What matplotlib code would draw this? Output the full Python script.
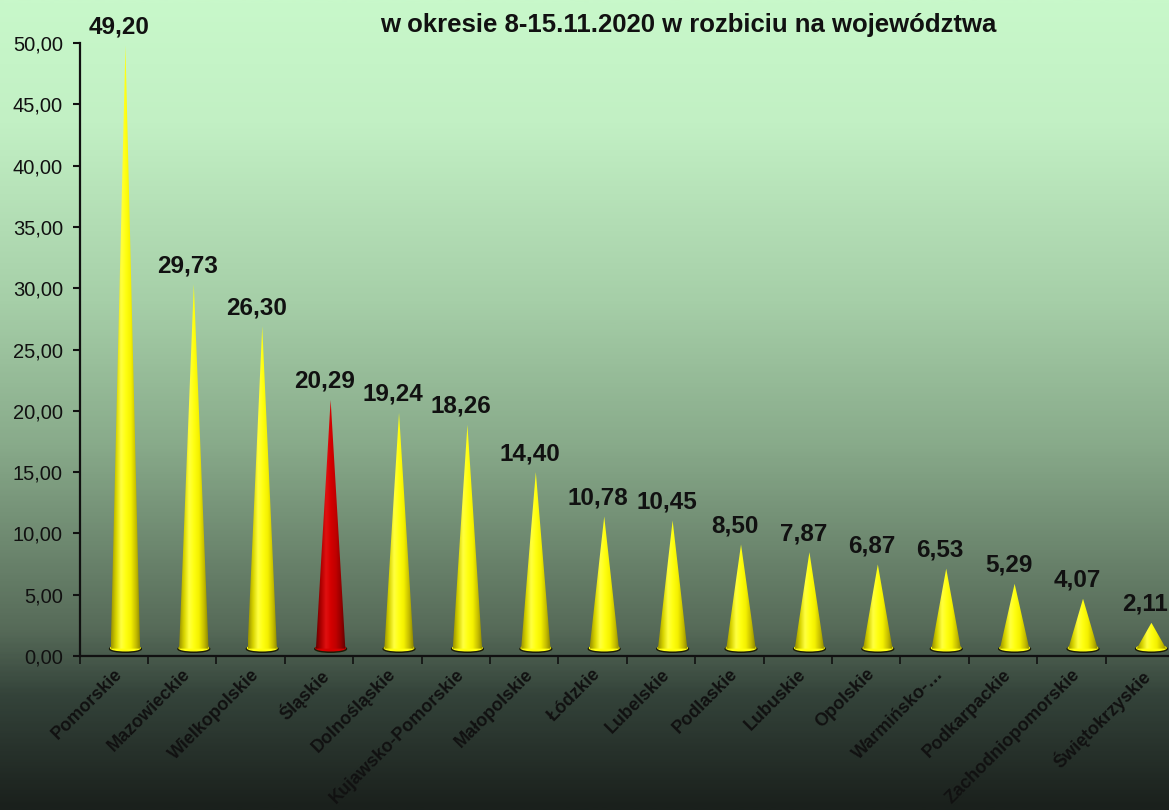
import matplotlib
matplotlib.use("Agg")
import matplotlib.pyplot as plt
import numpy as np
from matplotlib.colors import LinearSegmentedColormap
from matplotlib.patches import Polygon, Ellipse
from matplotlib.ticker import FuncFormatter

plt.rcParams['font.family'] = ['Liberation Sans', 'DejaVu Sans']

categories = ["Pomorskie", "Mazowieckie", "Wielkopolskie", "Śląskie", "Dolnośląskie",
              "Kujawsko-Pomorskie", "Małopolskie", "Łódzkie", "Lubelskie", "Podlaskie",
              "Lubuskie", "Opolskie", "Warmińsko-…", "Podkarpackie",
              "Zachodniopomorskie", "Świętokrzyskie"]
values = [49.20, 29.73, 26.30, 20.29, 19.24, 18.26, 14.40, 10.78, 10.45, 8.50,
          7.87, 6.87, 6.53, 5.29, 4.07, 2.11]
highlight = "Śląskie"
title = "w okresie 8-15.11.2020 w rozbiciu na województwa"

yellow_grad = ["#9c9400", "#d8d400", "#ffff40", "#ffff10", "#f4f000", "#c8c000", "#8a8400"]
red_grad = ["#6a0000", "#b00000", "#e01010", "#d40000", "#c00000", "#980000", "#600000"]
bg_grad = [(0.0, "#c8f8ca"), (0.15, "#c2f0c4"), (0.37, "#a6cfa8"), (0.55, "#88aa8a"),
           (0.78, "#566a58"), (0.86, "#34433a"), (1.0, "#1a201c")]

fig = plt.figure(figsize=(11.69, 8.10), dpi=100)

# background gradient
bg = fig.add_axes([0, 0, 1, 1], zorder=-5)
bg_cmap = LinearSegmentedColormap.from_list("bg", bg_grad)
bg.imshow(np.linspace(0, 1, 400).reshape(-1, 1), cmap=bg_cmap, aspect="auto",
          extent=[0, 1, 1, 0])
bg.axis("off")

ax = fig.add_axes([79.6 / 1169, 154 / 810, 1094.4 / 1169, 613 / 810])
ax.set_facecolor("none")

base = 0.6
w = 0.43
shift = 0.17
for i, (cat, v) in enumerate(zip(categories, values)):
    cx = i + 0.5 + shift
    cols = red_grad if cat == highlight else yellow_grad
    cmap = LinearSegmentedColormap.from_list("c%d" % i, cols)
    mid = cols[3]
    top = base + v
    ax.add_patch(Ellipse((cx, base - 0.02), w * 1.08, 0.55, color="#1c1c08", zorder=2))
    ax.add_patch(Ellipse((cx, base + 0.05), w, 0.45, color=mid, zorder=3))
    tri = Polygon([[cx - w / 2, base], [cx + w / 2, base], [cx, top]], closed=True,
                  facecolor="none", edgecolor="none")
    ax.add_patch(tri)
    im = ax.imshow(np.linspace(0, 1, 60).reshape(1, -1), cmap=cmap, aspect="auto",
                   extent=[cx - w / 2, cx + w / 2, base, top], zorder=4)
    im.set_clip_path(tri)
    ax.annotate(f"{v:.2f}".replace(".", ","), (i + 0.58, v), xytext=(0, 14),
                textcoords="offset points", ha="center", va="baseline",
                fontsize=17.5, fontweight="bold", color="#111111", zorder=5,
                annotation_clip=False)

ax.set_xlim(0, len(categories))
ax.set_ylim(0, 50)

ax.set_yticks(np.arange(0, 51, 5))
ax.yaxis.set_major_formatter(FuncFormatter(lambda v, p: f"{v:.2f}".replace(".", ",")))
ax.tick_params(axis="y", labelsize=14.5, length=5, width=1.5, pad=7, colors="#111111")

ax.set_xticks(np.arange(0, len(categories) + 1))
ax.set_xticklabels([])
ax.tick_params(axis="x", which="major", length=6, width=1.2, color="#111111")
ax.set_xticks(np.arange(len(categories)) + 0.5, minor=True)
ax.set_xticklabels(categories, minor=True, rotation=45, ha="right",
                   rotation_mode="anchor", fontsize=13, fontweight="bold",
                   color="#111111")
ax.tick_params(axis="x", which="minor", length=0, pad=7)

for s in ["top", "right"]:
    ax.spines[s].set_visible(False)
for s in ["left", "bottom"]:
    ax.spines[s].set_linewidth(1.6)
    ax.spines[s].set_color("#111111")

fig.text(688 / 1169, 1 - 32 / 810, title, ha="center", va="baseline",
         fontsize=18.5, fontweight="bold", color="#111111")

fig.savefig("out.png", dpi=100)
